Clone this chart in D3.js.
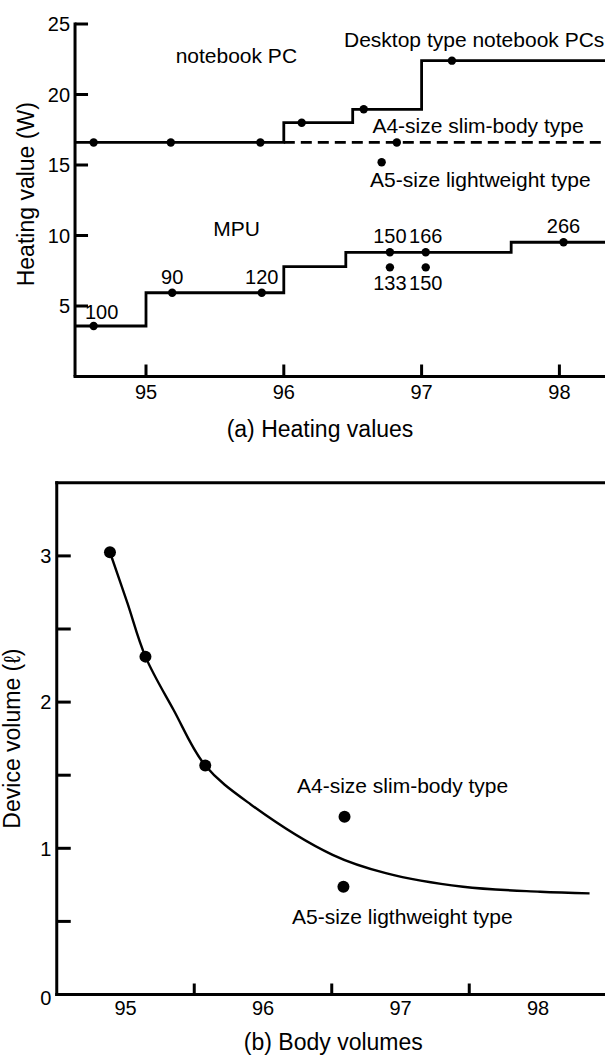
<!DOCTYPE html>
<html><head><meta charset="utf-8">
<script src="https://cdn.jsdelivr.net/npm/d3@7"></script>
<style>
html,body{margin:0;padding:0;background:#fff;}
svg{display:block;font-family:"Liberation Sans",Arial,Helvetica,sans-serif;}
</style></head>
<body>
<svg id="chart" width="605" height="1055"></svg>
<script>
// ---------- (a) Heating values ----------
const yearTicksA = [95, 96, 97, 98];
const heatTicks = [5, 10, 15, 20, 25];
// notebook PC step line (step-after)
const nbStepYears = [94.48, 96.0, 96.5, 97.0, 98.5];
const nbStepValues = [16.6, 18.0, 18.95, 22.4, 22.4];
// A4 slim-body (dashed) continuation
const a4StepYears = [96.0, 98.5];
const a4StepValues = [16.6, 16.6];
// notebook PC dots
const nbDotYears = [94.62, 95.18, 95.83, 96.13, 96.58, 97.22, 96.82, 96.71];
const nbDotValues = [16.6, 16.6, 16.6, 18.0, 18.95, 22.4, 16.6, 15.19];
// MPU step line
const mpuStepYears = [94.48, 95.0, 96.0, 96.45, 97.65, 98.5];
const mpuStepValues = [3.58, 5.94, 7.79, 8.81, 9.52, 9.52];
// MPU dots with clock labels
const mpuDotYears = [94.62, 95.19, 95.84, 96.77, 97.03, 96.77, 97.03, 98.03];
const mpuDotValues = [3.58, 5.94, 5.94, 8.81, 8.81, 7.74, 7.74, 9.52];
const mpuLabels = ["100", "90", "120", "150", "166", "133", "150", "266"];
const mpuLabelSide = ["aboveRight", "above", "above", "above", "above", "below", "below", "above"];
// text annotations (data coordinates)
const annotA = [
  {text: "notebook PC", year: 95.215, value: 22.26},
  {text: "Desktop type notebook PCs", year: 96.437, value: 23.39},
  {text: "A4-size slim-body type", year: 96.643, value: 17.25},
  {text: "A5-size lightweight type", year: 96.626, value: 13.46},
  {text: "MPU", year: 95.488, value: 9.99}
];

// ---------- (b) Body volumes ----------
const yearLabelsB = [95, 96, 97, 98];
const yearTicksB = [95.5, 96.5, 97.5];
const volTicks = [0.5, 1, 1.5, 2, 2.5, 3];
const volLabels = [0, 1, 2, 3];
const curveYears = [94.887, 95.013, 95.145, 95.35, 95.58, 95.911, 96.506, 96.893, 97.455, 98.016, 98.375];
const curveVolumes = [3.025, 2.68, 2.311, 1.946, 1.566, 1.30, 0.955, 0.83, 0.737, 0.703, 0.692];
const volDotYears = [94.887, 95.145, 95.58, 96.593, 96.585];
const volDotValues = [3.025, 2.311, 1.566, 1.216, 0.737];
const annotB = [
  {text: "A4-size slim-body type", year: 96.247, value: 1.376},
  {text: "A5-size ligthweight type", year: 96.211, value: 0.480}
];

const svg = d3.select("#chart");
const W = 605;
const ink = "#000";

// ===== Chart (a) =====
const xA = d3.scaleLinear().domain([95, 98]).range([146, 559.4]);
const yA = d3.scaleLinear().domain([0, 25]).range([376.5, 24]);
const gA = svg.append("g");
const axisXA = xA(94.485);

gA.append("line").attr("x1", axisXA).attr("x2", axisXA).attr("y1", yA(25) - 1.5).attr("y2", yA(0))
  .attr("stroke", ink).attr("stroke-width", 3);
gA.append("line").attr("x1", axisXA - 1.5).attr("x2", W).attr("y1", yA(0)).attr("y2", yA(0))
  .attr("stroke", ink).attr("stroke-width", 3);
gA.selectAll(".ytA").data(heatTicks).join("line")
  .attr("x1", axisXA).attr("x2", axisXA + 13).attr("y1", d => yA(d)).attr("y2", d => yA(d))
  .attr("stroke", ink).attr("stroke-width", 3);
gA.selectAll(".ylA").data(heatTicks).join("text")
  .attr("x", axisXA - 5).attr("y", d => yA(d)).attr("dy", "0.36em")
  .attr("text-anchor", "end").attr("font-size", 20).text(d => d);
gA.selectAll(".xtA").data(yearTicksA).join("line")
  .attr("x1", d => xA(d)).attr("x2", d => xA(d)).attr("y1", yA(0)).attr("y2", yA(0) - 12)
  .attr("stroke", ink).attr("stroke-width", 3);
gA.selectAll(".xlA").data(yearTicksA).join("text")
  .attr("x", d => xA(d)).attr("y", yA(0) + 22.5)
  .attr("text-anchor", "middle").attr("font-size", 20).text(d => d);

const stepLine = d3.line().x(d => xA(d[0])).y(d => yA(d[1])).curve(d3.curveStepAfter);
gA.append("path").datum(d3.zip(nbStepYears, nbStepValues)).attr("d", stepLine)
  .attr("fill", "none").attr("stroke", ink).attr("stroke-width", 2.8);
gA.append("path").datum(d3.zip(a4StepYears, a4StepValues)).attr("d", stepLine)
  .attr("fill", "none").attr("stroke", ink).attr("stroke-width", 2.8).attr("stroke-dasharray", "11,6");
gA.append("path").datum(d3.zip(mpuStepYears, mpuStepValues)).attr("d", stepLine)
  .attr("fill", "none").attr("stroke", ink).attr("stroke-width", 2.8);

gA.selectAll(".nbdot").data(d3.zip(nbDotYears, nbDotValues)).join("circle")
  .attr("cx", d => xA(d[0])).attr("cy", d => yA(d[1])).attr("r", 4.2).attr("fill", ink);
gA.selectAll(".mpudot").data(d3.zip(mpuDotYears, mpuDotValues)).join("circle")
  .attr("cx", d => xA(d[0])).attr("cy", d => yA(d[1])).attr("r", 4.2).attr("fill", ink);
gA.selectAll(".mpulab").data(mpuLabels.map((t, i) => ({t, i}))).join("text")
  .attr("x", d => xA(mpuDotYears[d.i]) + (mpuLabelSide[d.i] === "aboveRight" ? 8 : 0))
  .attr("y", d => {
    const cy = yA(mpuDotValues[d.i]);
    const s = mpuLabelSide[d.i];
    return s === "below" ? cy + 22.7 : (s === "aboveRight" ? cy - 6.7 : cy - 9);
  })
  .attr("text-anchor", "middle").attr("font-size", 20).text(d => d.t);

gA.selectAll(".annA").data(annotA).join("text")
  .attr("x", d => xA(d.year)).attr("y", d => yA(d.value))
  .attr("font-size", 21).text(d => d.text);

gA.append("text").attr("transform", `translate(34, ${(yA(0) + yA(25)) / 2 - 6}) rotate(-90)`)
  .attr("text-anchor", "middle").attr("font-size", 23).text("Heating value (W)");
gA.append("text").attr("x", 320).attr("y", 436.5).attr("text-anchor", "middle")
  .attr("font-size", 23).text("(a) Heating values");

// ===== Chart (b) =====
const xB = d3.scaleLinear().domain([95, 98]).range([125.5, 538]);
const yB = d3.scaleLinear().domain([0, 3.5]).range([994.5, 482.8]);
const gB = svg.append("g");
const axisXB = xB(94.5);

gB.append("line").attr("x1", axisXB).attr("x2", axisXB).attr("y1", yB(3.5) - 1.5).attr("y2", yB(0) + 1.5)
  .attr("stroke", ink).attr("stroke-width", 3);
gB.append("line").attr("x1", axisXB - 1.5).attr("x2", W).attr("y1", yB(3.5)).attr("y2", yB(3.5))
  .attr("stroke", ink).attr("stroke-width", 3);
gB.append("line").attr("x1", axisXB - 1.5).attr("x2", W).attr("y1", yB(0)).attr("y2", yB(0))
  .attr("stroke", ink).attr("stroke-width", 3);
gB.selectAll(".ytB").data(volTicks).join("line")
  .attr("x1", axisXB).attr("x2", axisXB + 14).attr("y1", d => yB(d)).attr("y2", d => yB(d))
  .attr("stroke", ink).attr("stroke-width", 3);
gB.selectAll(".ylB").data(volLabels).join("text")
  .attr("x", axisXB - 5.5).attr("y", d => yB(d) + (d === 0 ? 3.5 : 0)).attr("dy", "0.36em")
  .attr("text-anchor", "end").attr("font-size", 20).text(d => d);
gB.selectAll(".xtB").data(yearTicksB).join("line")
  .attr("x1", d => xB(d)).attr("x2", d => xB(d)).attr("y1", yB(0)).attr("y2", yB(0) - 11)
  .attr("stroke", ink).attr("stroke-width", 3);
gB.selectAll(".xlB").data(yearLabelsB).join("text")
  .attr("x", d => xB(d)).attr("y", yB(0) + 20.5)
  .attr("text-anchor", "middle").attr("font-size", 20).text(d => d);

const curveLine = d3.line().x(d => xB(d[0])).y(d => yB(d[1])).curve(d3.curveCatmullRom.alpha(0.5));
gB.append("path").datum(d3.zip(curveYears, curveVolumes)).attr("d", curveLine)
  .attr("fill", "none").attr("stroke", ink).attr("stroke-width", 2.4);
gB.selectAll(".vdot").data(d3.zip(volDotYears, volDotValues)).join("circle")
  .attr("cx", d => xB(d[0])).attr("cy", d => yB(d[1])).attr("r", 6).attr("fill", ink);
gB.selectAll(".annB").data(annotB).join("text")
  .attr("x", d => xB(d.year)).attr("y", d => yB(d.value))
  .attr("font-size", 21).text(d => d.text);

gB.append("text").attr("transform", `translate(20, ${(yB(0) + yB(3.5)) / 2}) rotate(-90)`)
  .attr("text-anchor", "middle").attr("font-size", 23).text("Device volume (\u2113)");
gB.append("text").attr("x", 333.3).attr("y", 1049.5).attr("text-anchor", "middle")
  .attr("font-size", 23).text("(b) Body volumes");
</script>
</body></html>
